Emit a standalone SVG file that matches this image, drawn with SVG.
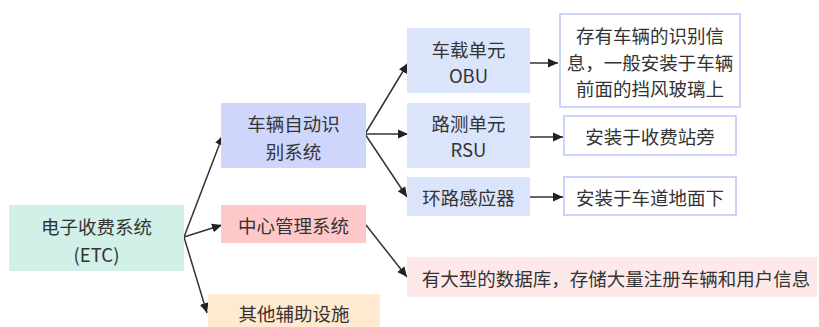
<svg xmlns="http://www.w3.org/2000/svg" width="819" height="327" viewBox="0 0 819 327">
<defs>
<marker id="ah" viewBox="0 0 10 10" refX="10" refY="5" markerWidth="10" markerHeight="10" markerUnits="userSpaceOnUse" orient="auto">
<path d="M0,0.5 L10,5 L0,9.5 z" fill="#222"/>
</marker>
<style>
text{font-family:"Noto Sans CJK SC","Noto Sans",sans-serif;font-size:18.5px;fill:#333;text-anchor:middle;dominant-baseline:central}
.c{stroke:#333;stroke-width:1.5;fill:none;marker-end:url(#ah)}
.tb{fill:#fff;stroke:#bcc6fc;stroke-width:1.5}
.sub{fill:#dae5fc}
</style>
</defs>
<rect width="819" height="327" fill="#fff"/>
<g id="connectors">
<path class="c" d="M184,237 L223,135"/>
<path class="c" d="M184,237 L222,225"/>
<path class="c" d="M184,237 L207,313"/>
<path class="c" d="M365,134 L408,63"/>
<path class="c" d="M365,134 L408,134"/>
<path class="c" d="M365,134 L407,197"/>
<path class="c" d="M366,225 L407,277"/>
<path class="c" d="M530,63 L558,63"/>
<path class="c" d="M530,137 L563,137"/>
<path class="c" d="M530,197 L563,197"/>
</g>
<g id="etc">
<rect x="9" y="205" width="175" height="66" fill="#d0f0e8"/>
<text x="96.5" y="226">电子收费系统</text>
<text x="96.5" y="254">(ETC)</text>
</g>
<g id="avi">
<rect x="221" y="103" width="145" height="65" fill="#cfd6fc"/>
<text x="293.5" y="123">车辆自动识</text>
<text x="293.5" y="151">别系统</text>
</g>
<g id="cms">
<rect x="221" y="205" width="145" height="38" fill="#ffc8c8"/>
<text x="293.5" y="225">中心管理系统</text>
</g>
<g id="other">
<rect x="208" y="294" width="172" height="35" fill="#ffe9cf"/>
<text x="294" y="313">其他辅助设施</text>
</g>
<g id="obu">
<rect class="sub" x="407" y="28" width="123" height="65"/>
<text x="468.5" y="49">车载单元</text>
<text x="468.5" y="75">OBU</text>
</g>
<g id="rsu">
<rect class="sub" x="407" y="103" width="123" height="65"/>
<text x="468.5" y="123">路测单元</text>
<text x="468.5" y="149">RSU</text>
</g>
<g id="loop">
<rect class="sub" x="407" y="177" width="123" height="39"/>
<text x="468.5" y="196.5">环路感应器</text>
</g>
<g id="obu-desc">
<rect class="tb" x="560" y="14" width="180" height="93"/>
<text x="650" y="35">存有车辆的识别信</text>
<text x="650" y="62">息，一般安装于车辆</text>
<text x="650" y="88">前面的挡风玻璃上</text>
</g>
<g id="rsu-desc">
<rect class="tb" x="564" y="116" width="172" height="39"/>
<text x="650" y="136">安装于收费站旁</text>
</g>
<g id="loop-desc">
<rect class="tb" x="564" y="177" width="172" height="38"/>
<text x="650" y="196.5">安装于车道地面下</text>
</g>
<g id="cms-desc">
<rect x="407" y="257" width="410" height="40" fill="#fde9e9"/>
<text x="616" y="278">有大型的数据库，存储大量注册车辆和用户信息</text>
</g>
</svg>
